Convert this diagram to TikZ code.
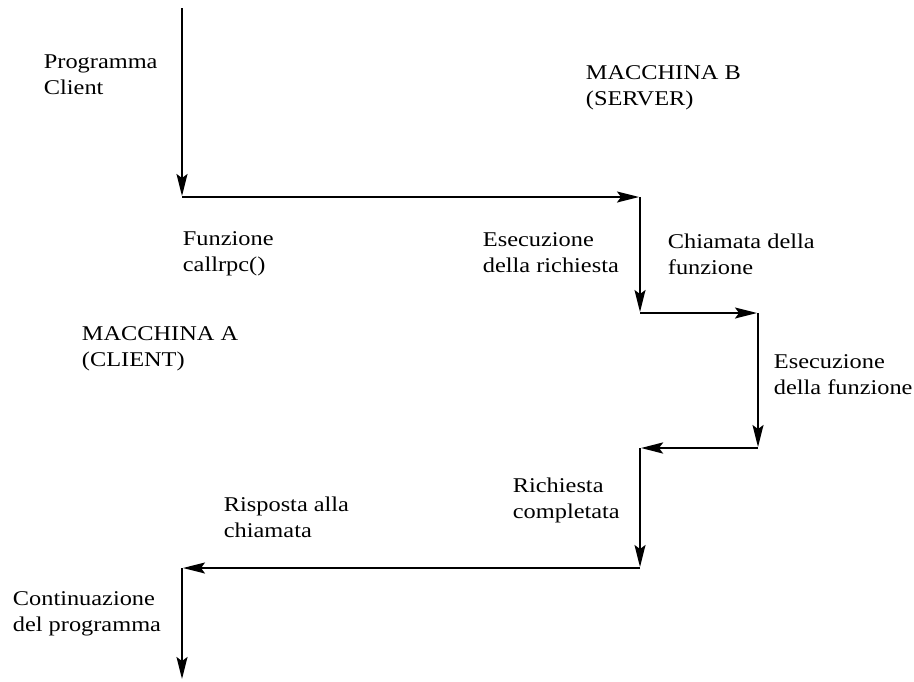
\documentclass[tikz,border=0pt]{standalone}
\usepackage{fontspec}
\setmainfont{Liberation Serif}[FakeStretch=1.16]
\usetikzlibrary{arrows.meta}

\begin{document}
\begin{tikzpicture}[x=1pt,y=-1pt,
    every edge/.style={draw,-{Stealth[length=22pt,width=11pt,inset=4pt]},shorten >=1pt},
    line width=1.8pt,
    lbl/.style={anchor=north west,inner sep=0pt,align=left,
      font=\fontsize{21}{26}\selectfont}]
      \useasboundingbox (0,0) rectangle (914,681);

      % corners of the call path
      \coordinate (c0) at (182, 8);
      \coordinate (c1) at (182, 197);
      \coordinate (c2) at (640, 197);
      \coordinate (c3) at (640, 313);
      \coordinate (c4) at (758, 313);
      \coordinate (c5) at (758, 448);
      \coordinate (c6) at (640, 448);
      \coordinate (c7) at (640, 568);
      \coordinate (c8) at (182, 568);
      \coordinate (c9) at (182, 680);

      \path
        (c0) edge (c1)
        (c1) edge (c2)
        (c2) edge (c3)
        (c3) edge (c4)
        (c4) edge (c5)
        (c5) edge [line width=2.8pt] (c6)
        (c6) edge (c7)
        (c7) edge (c8)
        (c8) edge (c9);

      % labels
      \node[lbl] (prog)   at (43, 54)   {Programma\\Client};
      \node[lbl] (srv)    at (585, 65)  {MACCHINA B\\(SERVER)};
      \node[lbl] (funz)   at (182, 231) {Funzione\\callrpc()};
      \node[lbl] (esreq)  at (482, 232) {Esecuzione\\della richiesta};
      \node[lbl] (chiam)  at (667, 233) {Chiamata della\\funzione};
      \node[lbl] (cli)    at (81, 326)  {MACCHINA A\\(CLIENT)};
      \node[lbl] (esfun)  at (773, 354) {Esecuzione\\della funzione};
      \node[lbl] (compl)  at (512, 477) {Richiesta\\completata};
      \node[lbl] (risp)   at (223, 496) {Risposta alla\\chiamata};
      \node[lbl] (cont)   at (12, 591)  {Continuazione\\del programma};
    \end{tikzpicture}
\end{document}
